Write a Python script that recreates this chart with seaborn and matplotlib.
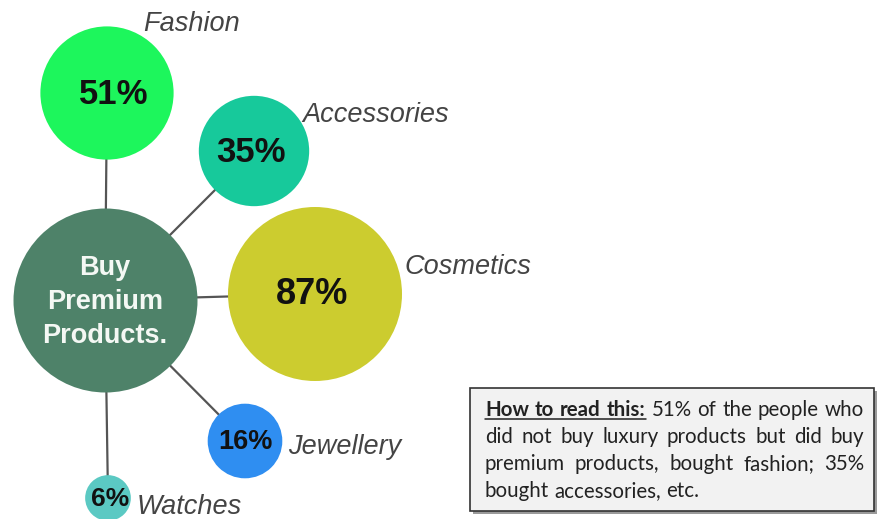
import numpy as np
import pandas as pd
import seaborn as sns
import matplotlib.pyplot as plt
from matplotlib.patches import Rectangle

# ---- data -------------------------------------------------------------
categories = ["Fashion", "Accessories", "Cosmetics", "Jewellery", "Watches"]
shares = [51, 35, 87, 16, 6]
share_labels = ["51%", "35%", "87%", "16%", "6%"]
hub_label = "Buy\nPremium\nProducts."

note_lines = [
    "How to read this: 51% of the people who",
    "did not buy luxury products but did buy",
    "premium products, bought fashion; 35%",
    "bought accessories, etc.",
]
note_bold_words = 4  # "How to read this:"

# ---- layout (pixel canvas) ---------------------------------------------
W, H, DPI = 878, 519, 100
hub_xy = (105, 300)
hub_r = 92
bubble_x = [107, 254, 315, 245, 108]
bubble_y = [93, 151, 294, 441, 498]
pct_dx = [7, -3, -3, 0, 2]
label_xy = [(143, 24), (302, 115), (405, 267), (288, 447), (137, 507)]
pct_size = [25, 25, 26, 19.5, 19]
colors = ["#1DF65C", "#17C99B", "#CCCC2F", "#2F8EF1", "#5BC9C3"]
hub_color = "#4E8269"
line_color = "#555555"
px_per_pt = DPI / 72.0
r_max = 87.0  # radius in px for the largest share

sns.set_theme(style="white")
plt.rcParams["font.family"] = ["Liberation Sans", "DejaVu Sans"]

fig = plt.figure(figsize=(W / DPI, H / DPI), dpi=DPI)
ax = fig.add_axes([0, 0, 1, 1])
ax.set_xlim(0, W)
ax.set_ylim(H, 0)
ax.set_axis_off()

df = pd.DataFrame({"category": categories, "share": shares,
                   "x": bubble_x, "y": bubble_y})

# connectors from the hub to each bubble
for bx, by in zip(bubble_x, bubble_y):
    ax.plot([hub_xy[0], bx], [hub_xy[1], by], color=line_color, lw=1.6,
            zorder=1, solid_capstyle="butt")

# bubble areas proportional to the share
s_max = (2 * r_max / px_per_pt) ** 2
sns.scatterplot(data=df, x="x", y="y", hue="category",
                palette=dict(zip(categories, colors)),
                size="share", sizes=(0, s_max), size_norm=(0, max(shares)),
                linewidth=0, alpha=1, legend=False, ax=ax, zorder=2)

# hub circle
hub_s = (2 * hub_r / px_per_pt) ** 2
ax.scatter([hub_xy[0]], [hub_xy[1]], s=hub_s, color=hub_color,
           linewidth=0, zorder=2)
ax.text(hub_xy[0], hub_xy[1] + 2, hub_label, color="#F4F8F4",
        fontsize=19.5, fontweight="bold", ha="center", va="center",
        linespacing=1.42, zorder=3)

# percentages and category names
for cat, lab, bx, by, dx, fs, (lx, ly) in zip(categories, share_labels,
                                              bubble_x, bubble_y, pct_dx,
                                              pct_size, label_xy):
    ax.text(bx + dx, by + 1, lab, fontsize=fs, fontweight="bold",
            color="#111111", ha="center", va="center", zorder=3)
    ax.text(lx, ly, cat, fontsize=19.5, fontstyle="italic", color="#444444",
            ha="left", va="center", zorder=3)

# explanatory note box with shadow
bx0, by0, bx1, by1 = 470, 388, 874, 511
ax.add_patch(Rectangle((bx0 + 3, by0 + 3), bx1 - bx0, by1 - by0,
                       facecolor="#9A9A9A", edgecolor="none", zorder=4))
ax.add_patch(Rectangle((bx0, by0), bx1 - bx0, by1 - by0,
                       facecolor="#F2F2F2", edgecolor="#333333", lw=1.2,
                       zorder=5))

note_font = dict(family=["Lato", "DejaVu Sans"], fontsize=14.8,
                 color="#222222")
text_left, text_right = 485, 864
baselines = [416, 443, 470, 497]
renderer = fig.canvas.get_renderer()


def word_width(word, bold):
    t = ax.text(0, 0, word, fontweight="bold" if bold else "normal",
                **note_font)
    w = t.get_window_extent(renderer).width
    t.remove()
    return w


word_idx = 0
for li, (line, base) in enumerate(zip(note_lines, baselines)):
    words = line.split(" ")
    bolds = [(word_idx + k) < note_bold_words for k in range(len(words))]
    widths = [word_width(w, b) for w, b in zip(words, bolds)]
    last = li == len(note_lines) - 1
    if last or len(words) == 1:
        gap = word_width("a a", False) - 2 * word_width("a", False)
    else:
        gap = (text_right - text_left - sum(widths)) / (len(words) - 1)
    x = text_left
    bold_end = None
    for w, b, wd in zip(words, bolds, widths):
        ax.text(x, base, w, fontweight="bold" if b else "normal",
                ha="left", va="baseline", zorder=6, **note_font)
        if b:
            bold_end = x + wd
        x += wd + gap
    if bold_end is not None:
        ax.plot([text_left, bold_end], [base + 2.5, base + 2.5],
                color="#222222", lw=1.1, zorder=6)
    word_idx += len(words)

fig.savefig("out.png", dpi=DPI)
